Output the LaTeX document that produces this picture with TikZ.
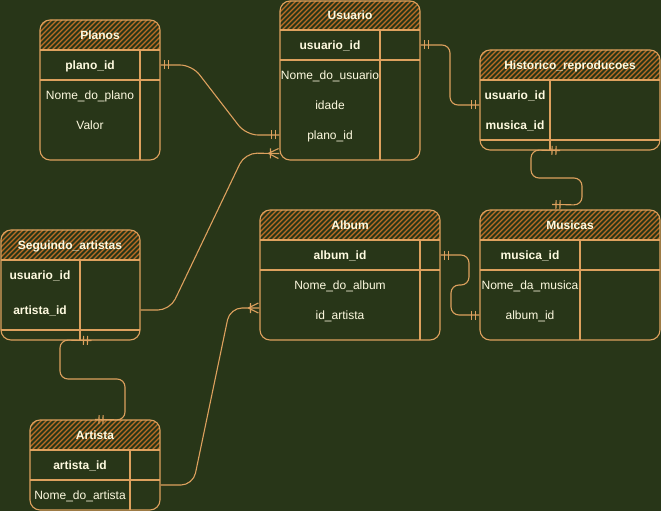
\documentclass[tikz,border=0pt]{standalone}
\usepackage{fontspec}
\setmainfont{Liberation Sans}
\usetikzlibrary{decorations.markings,fit,calc}
\definecolor{bgc}{HTML}{283618}
\definecolor{strk}{HTML}{DDA15E}
\definecolor{hatchc}{HTML}{BC6C25}
\definecolor{txt}{HTML}{FEFAE0}
\tikzset{
  tbl/.style={draw=strk, line width=1.1bp, rounded corners=10bp, inner sep=0pt},
  hatchline/.style={draw=hatchc, line width=1.1bp},
  sepline/.style={draw=strk, line width=1.1bp},
  ttl/.style={text=txt, font=\bfseries\fontsize{12bp}{14bp}\selectfont, inner sep=0pt, text height=8.6bp, text depth=0pt},
  keyf/.style={ttl},
  fld/.style={text=txt, font=\fontsize{12bp}{14bp}\selectfont, inner sep=0pt, text height=8.6bp, text depth=0pt},
  conn/.style={draw=strk, line width=1.1bp, rounded corners=#1},
  conn/.default=8bp,
  mk/.style={draw=strk, line width=1.1bp, sharp corners},
  one start/.style={postaction={decorate, decoration={markings,
     mark=at position 4bp with {\draw[mk] (0,-4.5) -- (0,4.5);},
     mark=at position 8bp with {\draw[mk] (0,-4.5) -- (0,4.5);}}}},
  one end/.style={postaction={decorate, decoration={markings,
     mark=at position -8bp with {\draw[mk] (0,-4.5) -- (0,4.5);},
     mark=at position -4bp with {\draw[mk] (0,-4.5) -- (0,4.5);}}}},
  many end/.style={postaction={decorate, decoration={markings,
     mark=at position -11bp with {\draw[mk] (0,0) -- (10,5) (0,0) -- (10,-5) (2,-5) -- (2,5);}}}},
}
% #1 name, #2 x1, #3 y1, #4 x2, #5 y2, #6 header bottom, #7 key line, #8 divider x
\newcommand\ertbl[8]{%
  \begin{scope}
    \clip[rounded corners=10bp] (#2,#3) rectangle (#4,#5);
    \clip (#2,#3) rectangle (#4,#6);
    \foreach \i in {-35,-30,...,185} {\draw[hatchline] ({#2+\i},{#6+2}) -- ++(34,-34);}
  \end{scope}
  \node[tbl, fit={(#2,#3) (#4,#5)}] (#1) {};
  \draw[sepline] (#2,#6) -- (#4,#6);
  \draw[sepline] (#2,#7) -- (#4,#7);
  \draw[sepline] (#8,#6) -- (#8,#5);
}
\begin{document}
\begin{tikzpicture}[x=1bp,y=-1bp]
\useasboundingbox (0,0) rectangle (661,511);
\fill[bgc] (0,0) rectangle (661,511);

% Planos
\ertbl{planos}{40}{20}{160}{160}{50}{80}{140}
\node[ttl] (planos-t) at (100,35) {Planos};
\node[keyf] (planos-k1) at (90,65) {plano\_id};
\node[fld] (planos-f1) at (90,95) {Nome\_do\_plano};
\node[fld] (planos-f2) at (90,125) {Valor};

% Usuario
\ertbl{usuario}{280}{1}{420}{160}{30}{60}{380}
\node[ttl] (usuario-t) at (350,15) {Usuario};
\node[keyf] (usuario-k1) at (330,45) {usuario\_id};
\node[fld] (usuario-f1) at (330,75) {Nome\_do\_usuario};
\node[fld] (usuario-f2) at (330,105) {idade};
\node[fld] (usuario-f3) at (330,135) {plano\_id};

% Historico_reproducoes
\ertbl{hist}{480}{50}{660}{150}{80}{140}{550}
\node[ttl] (hist-t) at (570,65) {Historico\_reproducoes};
\node[keyf] (hist-k1) at (515,95) {usuario\_id};
\node[keyf] (hist-k2) at (515,125) {musica\_id};

% Seguindo_artistas
\ertbl{seg}{1}{230}{140}{340}{260}{330}{80}
\node[ttl] (seg-t) at (70,245) {Seguindo\_artistas};
\node[keyf] (seg-k1) at (40,275) {usuario\_id};
\node[keyf] (seg-k2) at (40,310) {artista\_id};

% Album
\ertbl{album}{260}{210}{440}{340}{240}{270}{420}
\node[ttl] (album-t) at (350,225) {Album};
\node[keyf] (album-k1) at (340,255) {album\_id};
\node[fld] (album-f1) at (340,285) {Nome\_do\_album};
\node[fld] (album-f2) at (340,315) {id\_artista};

% Musicas
\ertbl{musicas}{480}{210}{660}{340}{240}{270}{580}
\node[ttl] (musicas-t) at (570,225) {Musicas};
\node[keyf] (musicas-k1) at (530,255) {musica\_id};
\node[fld] (musicas-f1) at (530,285) {Nome\_da\_musica};
\node[fld] (musicas-f2) at (530,315) {album\_id};

% Artista
\ertbl{artista}{30}{420}{160}{510}{450}{480}{130}
\node[ttl] (artista-t) at (95,435) {Artista};
\node[keyf] (artista-k1) at (80,465) {artista\_id};
\node[fld] (artista-f1) at (80,495) {Nome\_do\_artista};

% Connectors
\draw[conn=12bp, one start, one end] (planos.east |- planos-k1) -- (192,65) -- (246,135) -- (usuario.west |- usuario-f3);
\draw[conn, one start, one end] (usuario.east |- usuario-k1) -- (450,45) -- (450,105) -- ($(hist.west)+(0,5)$);
\draw[conn, one start, one end] ($(hist.south)+(-10,0)$) -- (531,150) -- (531,178) -- (582,178) -- (582,205) -- ($(musicas.north)+(-18,-5)$);
\draw[conn, one start, one end] (album.east |- album-k1) -- (469,255) -- (469,285) -- (451,285) -- (451,315) -- (musicas.west |- musicas-f2);
\draw[conn=12bp, many end] (seg.east |- seg-k2) -- (170,310) -- (245,153) -- ($(usuario.south west)+(0,-7)$);
\draw[conn, one start, one end] ($(seg.south)+(21,0)$) -- (60,340) -- (60,379) -- (125,379) -- (125,420) -- (artista.north);
\draw[conn=12bp, many end] ($(artista.east)+(0,20)$) -- (193,485) -- (230,308) -- ($(album.west)+(0,33)$);
\end{tikzpicture}
\end{document}
